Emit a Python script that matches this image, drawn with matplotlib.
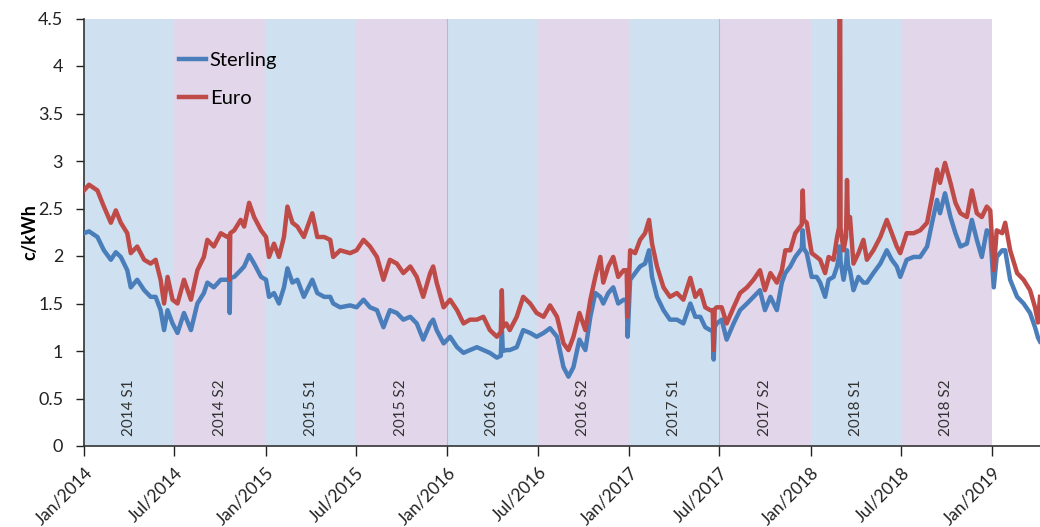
import matplotlib
matplotlib.use("Agg")
import matplotlib.pyplot as plt
import matplotlib.dates as mdates
import pandas as pd

# --- data (c/kWh) ---
DATES = [
    # 2014 / early 2015
    "2014-01-01", "2014-01-11", "2014-01-28", "2014-02-10", "2014-02-24", "2014-03-06", "2014-03-16", "2014-03-29",
    "2014-04-05", "2014-04-18", "2014-05-02", "2014-05-15", "2014-05-25", "2014-06-04", "2014-06-11", "2014-06-18",
    "2014-06-28", "2014-07-08", "2014-07-21", "2014-08-04", "2014-08-17", "2014-08-30", "2014-09-06", "2014-09-19",
    "2014-10-03", "2014-10-16", "2014-10-20", "2014-10-21", "2014-10-22", "2014-10-30", "2014-11-12", "2014-11-19",
    "2014-11-29", "2014-12-09", "2014-12-23", "2015-01-02", "2015-01-08", "2015-01-18", "2015-01-28", "2015-02-07",
    "2015-02-14", "2015-02-24", "2015-03-06", "2015-03-19", "2015-04-05", "2015-04-15", "2015-04-29",
    # mid 2015 - 2016
    "2015-05-11", "2015-05-17", "2015-05-31", "2015-06-20", "2015-07-03", "2015-07-17", "2015-07-30", "2015-08-13",
    "2015-08-26", "2015-09-08", "2015-09-22", "2015-10-05", "2015-10-19", "2015-11-01", "2015-11-14", "2015-11-28",
    "2015-12-04", "2015-12-11", "2015-12-25", "2016-01-07", "2016-01-21", "2016-02-03", "2016-02-16", "2016-03-01",
    "2016-03-14", "2016-03-27", "2016-04-10", "2016-04-18", "2016-04-20", "2016-04-22", "2016-04-29", "2016-05-06", "2016-05-20", "2016-06-02",
    "2016-06-16", "2016-06-29", "2016-07-13", "2016-07-26", "2016-08-09", "2016-08-22", "2016-09-01", "2016-09-11",
    # late 2016 - 2017
    "2016-09-23", "2016-10-05", "2016-10-15", "2016-10-25", "2016-11-04", "2016-11-10", "2016-11-20", "2016-11-30",
    "2016-12-10", "2016-12-21", "2016-12-27", "2016-12-29", "2017-01-03", "2017-01-13", "2017-01-23", "2017-02-02",
    "2017-02-10", "2017-02-16", "2017-02-26", "2017-03-11", "2017-03-24", "2017-04-07", "2017-04-20", "2017-05-04",
    "2017-05-14", "2017-05-24", "2017-06-03", "2017-06-13", "2017-06-18", "2017-06-20", "2017-06-22", "2017-06-26",
    "2017-07-06", "2017-07-16", "2017-07-30", "2017-08-12", "2017-08-26", "2017-09-08", "2017-09-21", "2017-10-01",
    "2017-10-12", "2017-10-25", "2017-11-04", "2017-11-11", "2017-11-21", "2017-12-01", "2017-12-11", "2017-12-14",
    "2017-12-16", "2017-12-18", "2017-12-24", "2018-01-03", "2018-01-13",
    # 2018 - 2019
    "2018-01-20", "2018-01-30", "2018-02-06", "2018-02-16", "2018-02-23", "2018-02-27", "2018-02-28", "2018-03-01",
    "2018-03-02", "2018-03-08", "2018-03-13", "2018-03-15", "2018-03-17", "2018-03-21", "2018-03-28", "2018-04-07",
    "2018-04-17", "2018-04-24", "2018-05-07", "2018-05-21", "2018-06-03", "2018-06-13", "2018-06-23", "2018-06-30",
    "2018-07-13", "2018-07-27", "2018-08-09", "2018-08-23", "2018-09-02", "2018-09-12", "2018-09-18", "2018-09-28",
    "2018-10-09", "2018-10-19", "2018-10-29", "2018-11-11", "2018-11-21", "2018-12-01", "2018-12-11", "2018-12-21",
    "2018-12-28", "2019-01-04", "2019-01-10", "2019-01-21", "2019-01-27", "2019-02-06", "2019-02-20", "2019-03-05",
    "2019-03-18", "2019-03-28", "2019-04-03", "2019-04-07",
]

STERLING = [
    2.24, 2.26, 2.20, 2.06, 1.96, 2.04, 1.99, 1.85,
    1.67, 1.75, 1.64, 1.57, 1.57, 1.43, 1.22, 1.43,
    1.29, 1.19, 1.40, 1.22, 1.50, 1.61, 1.72, 1.67,
    1.75, 1.75, 1.76, 1.40, 1.77, 1.78, 1.85, 1.89,
    2.01, 1.92, 1.78, 1.75, 1.57, 1.61, 1.50, 1.67,
    1.87, 1.72, 1.75, 1.57, 1.75, 1.61, 1.57,
    1.57, 1.50, 1.46, 1.48, 1.46, 1.54, 1.46, 1.43,
    1.25, 1.43, 1.40, 1.33, 1.36, 1.29, 1.12, 1.29,
    1.33, 1.22, 1.08, 1.15, 1.04, 0.98, 1.01, 1.04,
    1.01, 0.98, 0.93, 0.95, 1.25, 1.00, 1.01, 1.01, 1.04, 1.22,
    1.19, 1.15, 1.19, 1.24, 1.15, 0.83, 0.73, 0.83,
    1.12, 1.01, 1.36, 1.61, 1.57, 1.50, 1.61, 1.67,
    1.50, 1.54, 1.54, 1.15, 1.75, 1.82, 1.89, 1.92,
    2.06, 1.78, 1.57, 1.43, 1.33, 1.33, 1.29, 1.50,
    1.36, 1.36, 1.25, 1.22, 1.22, 0.91, 1.25, 1.29,
    1.33, 1.12, 1.29, 1.43, 1.50, 1.57, 1.64, 1.43,
    1.57, 1.43, 1.72, 1.82, 1.89, 1.99, 2.06, 2.08,
    2.27, 2.08, 2.03, 1.78, 1.78,
    1.72, 1.57, 1.75, 1.78, 1.89, 2.00, 2.10, 2.10,
    1.95, 1.75, 1.90, 2.06, 1.90, 1.85, 1.64, 1.78,
    1.72, 1.72, 1.82, 1.92, 2.06, 1.96, 1.89, 1.78,
    1.96, 1.99, 1.99, 2.10, 2.35, 2.59, 2.45, 2.66,
    2.41, 2.24, 2.10, 2.13, 2.38, 2.17, 1.99, 2.27,
    2.24, 1.67, 1.99, 2.06, 2.06, 1.75, 1.57, 1.50,
    1.40, 1.25, 1.14, 1.10,
]

EURO = [
    2.69, 2.75, 2.69, 2.52, 2.35, 2.48, 2.35, 2.24,
    2.03, 2.10, 1.96, 1.92, 1.96, 1.75, 1.50, 1.78,
    1.54, 1.50, 1.75, 1.54, 1.85, 1.99, 2.17, 2.10,
    2.24, 2.20, 2.21, 1.75, 2.24, 2.27, 2.38, 2.31,
    2.56, 2.41, 2.27, 2.20, 1.99, 2.13, 1.99, 2.20,
    2.52, 2.35, 2.31, 2.20, 2.45, 2.20, 2.20,
    2.17, 1.99, 2.06, 2.03, 2.06, 2.17, 2.10, 1.99,
    1.75, 1.96, 1.92, 1.82, 1.89, 1.78, 1.57, 1.82,
    1.89, 1.72, 1.46, 1.54, 1.43, 1.29, 1.33, 1.33,
    1.36, 1.22, 1.15, 1.20, 1.64, 1.25, 1.29, 1.22, 1.36, 1.57,
    1.50, 1.40, 1.36, 1.48, 1.36, 1.08, 1.01, 1.15,
    1.40, 1.22, 1.54, 1.78, 1.99, 1.72, 1.89, 1.99,
    1.78, 1.85, 1.85, 1.36, 2.06, 2.03, 2.17, 2.24,
    2.38, 2.13, 1.89, 1.67, 1.57, 1.61, 1.54, 1.77,
    1.57, 1.64, 1.46, 1.43, 1.43, 1.01, 1.44, 1.46,
    1.46, 1.29, 1.46, 1.61, 1.67, 1.75, 1.85, 1.64,
    1.82, 1.72, 1.85, 2.06, 2.06, 2.24, 2.31, 2.33,
    2.69, 2.38, 2.35, 2.03, 1.99,
    1.96, 1.82, 1.99, 1.96, 2.20, 2.30, 5.50, 5.50,
    2.30, 2.06, 2.20, 2.80, 2.30, 2.41, 1.92, 2.03,
    2.17, 1.96, 2.06, 2.20, 2.38, 2.24, 2.10, 2.03,
    2.24, 2.24, 2.27, 2.35, 2.62, 2.91, 2.77, 2.98,
    2.77, 2.56, 2.45, 2.41, 2.69, 2.45, 2.41, 2.52,
    2.48, 1.85, 2.27, 2.24, 2.35, 2.06, 1.82, 1.75,
    1.64, 1.46, 1.30, 1.57,
]

# half-year shaded periods
PERIOD_EDGES = ["2014-01-01", "2014-07-01", "2015-01-01", "2015-07-01", "2016-01-01", "2016-07-01",
                "2017-01-01", "2017-07-01", "2018-01-01", "2018-07-01", "2019-01-01"]
PERIOD_LABELS = ["2014 S1", "2014 S2", "2015 S1", "2015 S2", "2016 S1",
                 "2016 S2", "2017 S1", "2017 S2", "2018 S1", "2018 S2"]
THIN_LINES = ["2016-01-01", "2017-07-01"]

BLUE_BAND = "#CFE1F0"
PURPLE_BAND = "#E2D6EA"

plt.rcParams["font.family"] = ["Lato", "DejaVu Sans"]

dates = pd.to_datetime(DATES)
edges = pd.to_datetime(PERIOD_EDGES)

fig = plt.figure(figsize=(10.4, 5.27), dpi=100)
ax = fig.add_axes([84 / 1040, 1 - 446 / 527, (1040 - 84) / 1040, (446 - 18.5) / 527])

# shaded bands + labels
for i, lab in enumerate(PERIOD_LABELS):
    c = BLUE_BAND if i % 2 == 0 else PURPLE_BAND
    ax.axvspan(edges[i], edges[i + 1], color=c, lw=0, zorder=0)
    mid = edges[i] + (edges[i + 1] - edges[i]) / 2
    ax.text(mid, 0.40, lab, rotation=90, ha="center", va="center",
            fontsize=11, color="#333333", zorder=1)

for d in THIN_LINES:
    ax.axvline(pd.Timestamp(d), color="#aebbd8", lw=0.8, zorder=0.5)

ax.plot(dates, STERLING, color="#4A7EBB", lw=3.2, label="Sterling", zorder=3)
ax.plot(dates, EURO, color="#BE4B48", lw=3.2, label="Euro", zorder=4)

ax.set_xlim(pd.Timestamp("2014-01-01"), pd.Timestamp("2019-04-07"))
ax.set_ylim(0, 4.5)
ax.set_yticks([i * 0.5 for i in range(10)])
ax.yaxis.set_major_formatter(plt.FuncFormatter(lambda v, p: f"{v:g}"))
ax.xaxis.set_major_locator(mdates.MonthLocator(bymonth=[1, 7]))
ax.xaxis.set_major_formatter(mdates.DateFormatter("%b/%Y"))

for lbl in ax.get_xticklabels():
    lbl.set_rotation(45)
    lbl.set_ha("right")
    lbl.set_va("top")
    lbl.set_rotation_mode("anchor")

ax.tick_params(axis="x", length=7, width=1, colors="#222222", labelsize=12.5, pad=6)
ax.tick_params(axis="y", length=6, width=1, colors="#222222", labelsize=13, pad=9)
for s in ["top", "right"]:
    ax.spines[s].set_visible(False)
for s in ["left", "bottom"]:
    ax.spines[s].set_color("#333333")
    ax.spines[s].set_linewidth(1.2)

ax.set_ylabel("c/kWh", fontsize=13, fontweight="bold", labelpad=0)

ax.legend(loc="upper left", bbox_to_anchor=(0.08, 0.965), frameon=False,
          fontsize=14.5, handlelength=1.35, handletextpad=0.2, labelspacing=1.05)

fig.savefig("out.png", dpi=100)
